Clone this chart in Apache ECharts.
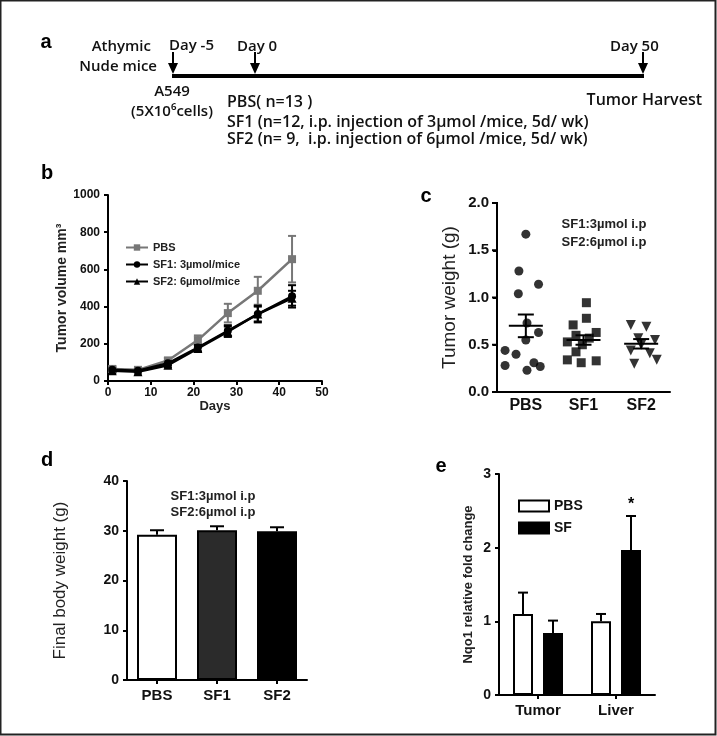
<!DOCTYPE html>
<html><head><meta charset="utf-8">
<script src="https://cdn.jsdelivr.net/npm/echarts@6/dist/echarts.min.js"></script>
<style>html,body{margin:0;padding:0;background:#fff}#c{width:717px;height:736px}</style>
</head><body><div id="c"></div>
<script>
// ---- Panel b: tumor volume over time ----
const days = [1, 7, 14, 21, 28, 35, 43];
const pbsVol = [65, 60, 110, 220, 365, 485, 655];
const pbsVolErr = [15, 12, 15, 25, 50, 75, 125];
const sf1Vol = [60, 55, 95, 180, 270, 360, 455];
const sf1VolErr = [12, 10, 12, 20, 30, 45, 60];
const sf2Vol = [55, 50, 85, 175, 265, 360, 445];
const sf2VolErr = [12, 10, 12, 18, 28, 40, 40];

// ---- Panel c: tumor weight scatter (x = group index + jitter) ----
const groupsC = ['PBS', 'SF1', 'SF2'];
const pbsWeights = [[0, 1.67], [-0.12, 1.28], [0.22, 1.14], [-0.13, 1.04], [0.02, 0.73], [0.22, 0.63], [0, 0.55], [-0.36, 0.44], [-0.17, 0.40], [-0.36, 0.28], [0.02, 0.23], [0.14, 0.31], [0.25, 0.27]];
const sf1Weights = [[1.05, 0.945], [1.05, 0.78], [0.82, 0.71], [1.22, 0.63], [0.87, 0.60], [1.1, 0.57], [0.72, 0.53], [0.98, 0.50], [0.87, 0.425], [0.72, 0.34], [0.96, 0.31], [1.22, 0.33]];
const sf2Weights = [[1.82, 0.71], [2.09, 0.69], [1.95, 0.57], [2.24, 0.55], [2.0, 0.50], [1.82, 0.44], [2.15, 0.41], [2.27, 0.34], [1.88, 0.30]];
const weightMeans = [0.70, 0.55, 0.51];
const weightSem = [0.12, 0.05, 0.05];
const weightTicks = [0, 0.5, 1, 1.5, 2];

// ---- Panel d: final body weight ----
const groupsD = ['PBS', 'SF1', 'SF2'];
const bodyWeight = [29.2, 30.1, 29.9];
const bodyWeightErr = [0.9, 0.8, 0.8];

// ---- Panel e: Nqo1 fold change ----
const tissues = ['Tumor', 'Liver'];
const nqoPbs = [1.1, 1.0];
const nqoPbsErr = [0.29, 0.10];
const nqoSf = [0.84, 1.97];
const nqoSfErr = [0.17, 0.46];
const nqoSig = ['', '*'];

const FONT = 'Liberation Sans, Arial, sans-serif';
const AFONT = 'Open Sans, sans-serif';
const chart = echarts.init(document.getElementById('c'), null, {renderer: 'canvas'});

// group slot centre on the 0..3 value axis of panel c
const slot = x => x + 0.5;
const toSlot = pts => pts.map(p => [slot(p[0]), p[1]]);

function axisBase() {
  return {
    axisLine: {show: true, onZero: false, lineStyle: {color: '#000', width: 2}},
    axisTick: {show: true, length: 4, lineStyle: {color: '#000', width: 2}},
    splitLine: {show: false},
    axisLabel: {color: '#111', fontFamily: FONT, fontWeight: 'bold', fontSize: 12}
  };
}

function errRenderer(color, capW, lw, upOnly, dx, sig) {
  return function (params, api) {
    const x = api.value(0), y = api.value(1), e = api.value(2);
    const p0 = api.coord([x, y]);
    const pt = api.coord([x, y + e]);
    const pb = upOnly ? p0 : api.coord([x, y - e]);
    const cx = p0[0] + dx;
    const st = {stroke: color, lineWidth: lw};
    const ch = [
      {type: 'line', shape: {x1: cx, y1: pt[1], x2: cx, y2: pb[1]}, style: st},
      {type: 'line', shape: {x1: cx - capW / 2, y1: pt[1], x2: cx + capW / 2, y2: pt[1]}, style: st}
    ];
    if (!upOnly) ch.push({type: 'line', shape: {x1: cx - capW / 2, y1: pb[1], x2: cx + capW / 2, y2: pb[1]}, style: st});
    if (sig && sig[params.dataIndex]) {
      ch.push({type: 'text', style: {text: sig[params.dataIndex], x: cx, y: pt[1] - 3, textAlign: 'center', textVerticalAlign: 'bottom', font: 'bold 16px ' + FONT, fill: '#000'}});
    }
    return {type: 'group', children: ch};
  };
}

function meanRenderer(params, api) {
  const x = api.value(0), m = api.value(1), s = api.value(2);
  const pm = api.coord([x, m]), pt = api.coord([x, m + s]), pb = api.coord([x, m - s]);
  const st = {stroke: '#000', lineWidth: 2};
  return {type: 'group', children: [
    {type: 'line', shape: {x1: pm[0] - 17, y1: pm[1], x2: pm[0] + 17, y2: pm[1]}, style: st},
    {type: 'line', shape: {x1: pm[0], y1: pt[1], x2: pm[0], y2: pb[1]}, style: st},
    {type: 'line', shape: {x1: pm[0] - 8, y1: pt[1], x2: pm[0] + 8, y2: pt[1]}, style: st},
    {type: 'line', shape: {x1: pm[0] - 8, y1: pb[1], x2: pm[0] + 8, y2: pb[1]}, style: st}
  ]};
}

const zip3 = (xs, ys, es) => xs.map((x, i) => [x, ys[i], es[i]]);
const idx = arr => arr.map((_, i) => i);

const eBarW = 20, eGap = 10;

// Panel a schematic (timeline diagram)
function arrow(x) {
  return [
    {type: 'line', shape: {x1: x, y1: 52, x2: x, y2: 66}, style: {stroke: '#000', lineWidth: 2}},
    {type: 'polygon', shape: {points: [[x - 5, 63], [x + 5, 63], [x, 74]]}, style: {fill: '#000'}}
  ];
}
function atext(t, x, y, align, size) {
  return {type: 'text', style: {text: t, x: x, y: y, textAlign: align || 'left', textVerticalAlign: 'middle', font: '600 ' + (size || 16) + 'px ' + AFONT, fill: '#111'}};
}
function plabel(t, x, y) {
  return {type: 'text', style: {text: t, x: x, y: y, textAlign: 'center', textVerticalAlign: 'middle', font: 'bold 20px ' + FONT, fill: '#000'}};
}
function ntext(t, x, y) {
  return {type: 'text', style: {text: t, x: x, y: y, textAlign: 'center', textVerticalAlign: 'middle', font: 'bold 13px ' + FONT, fill: '#222'}};
}

const graphics = [
  {type: 'rect', shape: {x: 0.5, y: 0.5, width: 715, height: 734}, style: {fill: 'none', stroke: '#222', lineWidth: 2}, silent: true},
  plabel('a', 46, 42), plabel('b', 47, 173), plabel('c', 426, 196), plabel('d', 47, 460), plabel('e', 441, 466),
  {type: 'line', shape: {x1: 172, y1: 76, x2: 644, y2: 76}, style: {stroke: '#000', lineWidth: 4}},
  ...arrow(173), ...arrow(255), ...arrow(643),
  atext('Athymic', 151, 47, 'right', 15), atext('Nude mice', 157, 67, 'right', 15),
  atext('Day -5', 169, 46, 'left', 15), atext('Day 0', 237, 47, 'left', 15), atext('Day 50', 610, 47, 'left', 15),
  atext('A549', 172, 92, 'center', 15), atext('(5X10\u2076cells)', 172, 112, 'center', 15),
  atext('PBS( n=13 )', 227, 102),
  atext('SF1 (n=12, i.p. injection of 3\u00b5mol /mice, 5d/ wk)', 227, 122),
  atext('SF2 (n= 9,  i.p. injection of 6\u00b5mol /mice, 5d/ wk)', 227, 139),
  atext('Tumor Harvest', 702, 100, 'right'),
  ntext('SF1:3\u00b5mol i.p', 604, 224), ntext('SF2:6\u00b5mol i.p', 604, 242),
  ntext('SF1:3\u00b5mol i.p', 213, 496), ntext('SF2:6\u00b5mol i.p', 213, 512)
];

const option = {
  backgroundColor: '#fff',
  animation: false,
  textStyle: {fontFamily: FONT},
  grid: [
    {left: 108, top: 195, width: 214, height: 186},
    {left: 497, top: 203, width: 173, height: 189},
    {left: 127, top: 481, width: 180, height: 199},
    {left: 499, top: 474, width: 156, height: 221}
  ],
  legend: [
    {data: ['PBS', 'SF1: 3\u00b5mol/mice', 'SF2: 6\u00b5mol/mice'], orient: 'vertical', left: 120, top: 237, itemGap: 6, itemWidth: 22, itemHeight: 8,
     textStyle: {fontFamily: FONT, fontWeight: 'bold', fontSize: 11, color: '#222'}, selectedMode: false},
    {data: ['Nqo1 PBS', 'Nqo1 SF'], orient: 'vertical', left: 513, top: 494, itemGap: 8, itemWidth: 30, itemHeight: 11, icon: 'rect',
     formatter: n => n.replace('Nqo1 ', ''), textStyle: {fontFamily: FONT, fontWeight: 'bold', fontSize: 14, color: '#111'}, selectedMode: false}
  ],
  xAxis: [
    Object.assign(axisBase(), {gridIndex: 0, type: 'value', min: 0, max: 50, interval: 10, name: 'Days', nameLocation: 'middle', nameGap: 16,
      nameTextStyle: {fontFamily: FONT, fontWeight: 'bold', fontSize: 13, color: '#222'}, axisLabel: {color: '#111', fontFamily: FONT, fontWeight: 'bold', fontSize: 12, margin: 6}}),
    Object.assign(axisBase(), {gridIndex: 1, type: 'value', min: 0, max: 3, axisTick: {show: false},
      axisLabel: {color: '#111', fontFamily: FONT, fontWeight: 'bold', fontSize: 16, margin: 6, customValues: idx(groupsC).map(slot), formatter: v => groupsC[Math.floor(v)]}}),
    Object.assign(axisBase(), {gridIndex: 2, type: 'category', data: groupsD, axisTick: {show: true, alignWithLabel: true, length: 4, lineStyle: {color: '#000', width: 2}},
      axisLabel: {color: '#111', fontFamily: FONT, fontWeight: 'bold', fontSize: 15, margin: 8}}),
    Object.assign(axisBase(), {gridIndex: 3, type: 'category', data: tissues, axisTick: {show: true, alignWithLabel: true, length: 4, lineStyle: {color: '#000', width: 2}},
      axisLabel: {color: '#111', fontFamily: FONT, fontWeight: 'bold', fontSize: 15, margin: 8}})
  ],
  yAxis: [
    Object.assign(axisBase(), {gridIndex: 0, type: 'value', min: 0, max: 1000, interval: 200, name: 'Tumor volume mm\u00b3', nameLocation: 'middle', nameGap: 33,
      nameTextStyle: {fontFamily: FONT, fontWeight: 'bold', fontSize: 14, color: '#222'},
      axisLabel: {color: '#111', fontFamily: FONT, fontWeight: 'bold', fontSize: 12, formatter: v => String(v)}}),
    Object.assign(axisBase(), {gridIndex: 1, type: 'value', min: 0, max: 2, interval: 0.5, name: 'Tumor weight (g)', nameLocation: 'middle', nameGap: 38,
      axisLine: {show: true, onZero: true, lineStyle: {color: '#000', width: 2}},
      nameTextStyle: {fontFamily: FONT, fontSize: 19, color: '#222'},
      axisLabel: {color: '#111', fontFamily: FONT, fontWeight: 'bold', fontSize: 15, formatter: v => v.toFixed(1)}}),
    Object.assign(axisBase(), {gridIndex: 2, type: 'value', min: 0, max: 40, interval: 10, name: 'Final body weight (g)', nameLocation: 'middle', nameGap: 58,
      nameTextStyle: {fontFamily: FONT, fontSize: 17, color: '#222'},
      axisLabel: {color: '#111', fontFamily: FONT, fontWeight: 'bold', fontSize: 14}}),
    Object.assign(axisBase(), {gridIndex: 3, type: 'value', min: 0, max: 3, interval: 1, name: 'Nqo1 relative fold change', nameLocation: 'middle', nameGap: 24,
      nameTextStyle: {fontFamily: FONT, fontWeight: 'bold', fontSize: 13, color: '#222'},
      axisLabel: {color: '#111', fontFamily: FONT, fontWeight: 'bold', fontSize: 14}})
  ],
  series: [
    // b
    {type: 'custom', xAxisIndex: 0, yAxisIndex: 0, renderItem: errRenderer('#777', 8, 2, false, 0), data: zip3(days, pbsVol, pbsVolErr), z: 2},
    {type: 'custom', xAxisIndex: 0, yAxisIndex: 0, renderItem: errRenderer('#000', 8, 2, false, 0), data: zip3(days, sf1Vol, sf1VolErr), z: 2},
    {type: 'custom', xAxisIndex: 0, yAxisIndex: 0, renderItem: errRenderer('#000', 8, 2, false, 0), data: zip3(days, sf2Vol, sf2VolErr), z: 2},
    {name: 'PBS', type: 'line', xAxisIndex: 0, yAxisIndex: 0, data: days.map((d, i) => [d, pbsVol[i]]), symbol: 'rect', symbolSize: 8,
     lineStyle: {color: '#777', width: 2.5}, itemStyle: {color: '#777'}, z: 3},
    {name: 'SF1: 3\u00b5mol/mice', type: 'line', xAxisIndex: 0, yAxisIndex: 0, data: days.map((d, i) => [d, sf1Vol[i]]), symbol: 'circle', symbolSize: 8,
     lineStyle: {color: '#000', width: 2.5}, itemStyle: {color: '#000'}, z: 4},
    {name: 'SF2: 6\u00b5mol/mice', type: 'line', xAxisIndex: 0, yAxisIndex: 0, data: days.map((d, i) => [d, sf2Vol[i]]), symbol: 'triangle', symbolSize: 9,
     lineStyle: {color: '#000', width: 2.5}, itemStyle: {color: '#000'}, z: 4},
    // c
    {type: 'scatter', xAxisIndex: 1, yAxisIndex: 1, data: toSlot(pbsWeights), symbol: 'circle', symbolSize: 9, itemStyle: {color: '#000'}},
    {type: 'scatter', xAxisIndex: 1, yAxisIndex: 1, data: toSlot(sf1Weights), symbol: 'rect', symbolSize: 9, itemStyle: {color: '#000'}},
    {type: 'scatter', xAxisIndex: 1, yAxisIndex: 1, data: toSlot(sf2Weights), symbol: 'triangle', symbolRotate: 180, symbolSize: 10, itemStyle: {color: '#000'}},
    {type: 'custom', xAxisIndex: 1, yAxisIndex: 1, renderItem: meanRenderer, data: zip3(idx(groupsC).map(slot), weightMeans, weightSem), z: 5},
    // d
    {type: 'bar', xAxisIndex: 2, yAxisIndex: 2, barWidth: 40,
     data: bodyWeight.map((v, i) => ({value: v, itemStyle: {color: ['#fff', '#2b2b2b', '#000'][i], borderColor: '#000', borderWidth: 2}}))},
    {type: 'custom', xAxisIndex: 2, yAxisIndex: 2, renderItem: errRenderer('#000', 14, 2, true, 0), data: zip3(idx(groupsD), bodyWeight, bodyWeightErr), z: 5},
    // e
    {name: 'Nqo1 PBS', type: 'bar', xAxisIndex: 3, yAxisIndex: 3, barWidth: eBarW, barGap: '50%', data: nqoPbs,
     itemStyle: {color: '#fff', borderColor: '#000', borderWidth: 2}},
    {name: 'Nqo1 SF', type: 'bar', xAxisIndex: 3, yAxisIndex: 3, barWidth: eBarW, barGap: '50%', data: nqoSf,
     itemStyle: {color: '#000', borderColor: '#000', borderWidth: 2}},
    {type: 'custom', xAxisIndex: 3, yAxisIndex: 3, renderItem: errRenderer('#000', 10, 2, true, -(eBarW + eGap) / 2), data: zip3(idx(tissues), nqoPbs, nqoPbsErr), z: 5},
    {type: 'custom', xAxisIndex: 3, yAxisIndex: 3, renderItem: errRenderer('#000', 10, 2, true, (eBarW + eGap) / 2, nqoSig), data: zip3(idx(tissues), nqoSf, nqoSfErr), z: 5}
  ],
  graphic: graphics
};
chart.setOption(option);

// Panel c y-axis spine and ticks on a top layer, positioned through the axis scale
(function () {
  const finder = {xAxisIndex: 1, yAxisIndex: 1};
  const top = chart.convertToPixel(finder, [0, weightTicks[weightTicks.length - 1]]);
  const bot = chart.convertToPixel(finder, [0, weightTicks[0]]);
  const zr = chart.getZr();
  const st = {stroke: '#000', lineWidth: 2};
  const els = [new echarts.graphic.Line({shape: {x1: bot[0], y1: top[1] - 1, x2: bot[0], y2: bot[1] + 1}, style: st, zlevel: 10, z: 100, silent: true})];
  weightTicks.forEach(t => {
    const p = chart.convertToPixel(finder, [0, t]);
    els.push(new echarts.graphic.Line({shape: {x1: p[0] - 5, y1: p[1], x2: p[0], y2: p[1]}, style: st, zlevel: 10, z: 100, silent: true}));
  });
  els.forEach(e => zr.add(e));
})();
</script></body></html>
